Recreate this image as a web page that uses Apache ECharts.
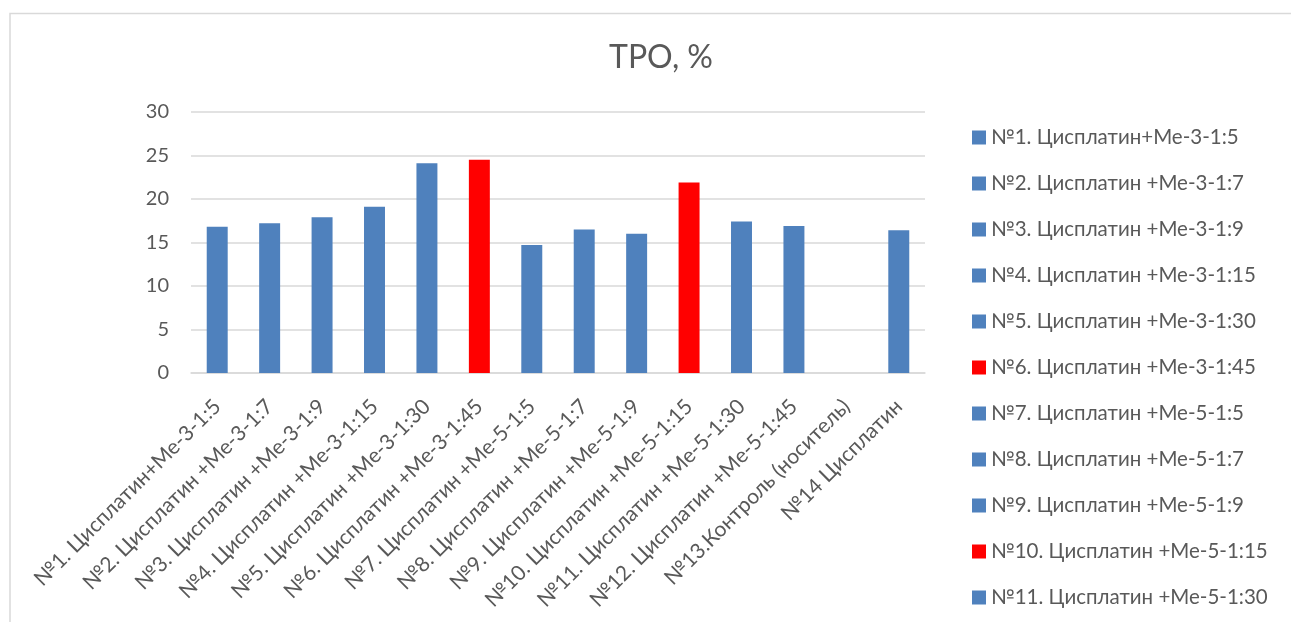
<!DOCTYPE html>
<html>
<head>
<meta charset="utf-8">
<script src="https://cdn.jsdelivr.net/npm/echarts@6/dist/echarts.min.js"></script>
<style>
  html, body { margin: 0; padding: 0; background: #fff; }
  #chart { width: 1291px; height: 622px; }
</style>
</head>
<body>
<div id="chart"></div>
<script>
const categories = [
  "№1. Цисплатин+Ме-3-1:5",
  "№2. Цисплатин +Ме-3-1:7",
  "№3. Цисплатин +Ме-3-1:9",
  "№4. Цисплатин +Ме-3-1:15",
  "№5. Цисплатин +Ме-3-1:30",
  "№6. Цисплатин +Ме-3-1:45",
  "№7. Цисплатин +Ме-5-1:5",
  "№8. Цисплатин +Ме-5-1:7",
  "№9. Цисплатин +Ме-5-1:9",
  "№10. Цисплатин +Ме-5-1:15",
  "№11. Цисплатин +Ме-5-1:30",
  "№12. Цисплатин +Ме-5-1:45",
  "№13.Контроль (носитель)",
  "№14 Цисплатин",
];
const tro = [16.8, 17.2, 17.9, 19.1, 24.1, 24.5, 14.7, 16.5, 16.0, 21.9, 17.4, 16.9, null, 16.4];
const highlighted = [false, false, false, false, false, true, false, false, false, true, false, false, false, false];
const yTicks = { min: 0, max: 30, interval: 5 };

const blue = "#4f81bd";
const red = "#ff0000";
const textColor = "#595959";
const font = "Lato, 'Open Sans', sans-serif";

const chart = echarts.init(document.getElementById("chart"));

// one series per category so the legend lists each one, like Excel's "vary colors by point"
const series = categories.map((name, i) => ({
  name: name,
  type: "bar",
  stack: "all",
  barCategoryGap: "60%",
  itemStyle: { color: highlighted[i] ? red : blue },
  data: tro.map((v, j) => (j === i ? v : null)),
}));

chart.setOption({
  animation: false,
  textStyle: { fontFamily: font },
  title: {
    text: "ТРО, %",
    left: 656,
    textAlign: "center",
    top: 37,
    textStyle: { fontFamily: font, fontSize: 32, fontWeight: "normal", color: textColor },
  },
  graphic: [
    {
      type: "rect",
      shape: { x: 10, y: 13.5, width: 1400, height: 800 },
      style: { fill: null, stroke: "#d9d9d9", lineWidth: 1.5 },
      silent: true,
    },
  ],
  legend: {
    orient: "vertical",
    left: 967,
    top: 122,
    height: 900,
    itemWidth: 14,
    itemHeight: 14,
    itemGap: 25,
    icon: "rect",
    textStyle: { fontFamily: font, fontSize: 20.5, color: textColor, lineHeight: 20 },
    data: categories,
  },
  grid: { left: 191, right: 366, top: 112, bottom: 249 },
  xAxis: {
    type: "category",
    data: categories,
    axisLine: { lineStyle: { color: "#d9d9d9", width: 1.5 } },
    axisTick: { show: false },
    axisLabel: {
      interval: 0,
      rotate: 45,
      margin: 30,
      fontFamily: font,
      fontSize: 21,
      color: textColor,
    },
  },
  yAxis: {
    type: "value",
    min: yTicks.min,
    max: yTicks.max,
    interval: yTicks.interval,
    axisLine: { show: false },
    axisTick: { show: false },
    axisLabel: { fontFamily: font, fontSize: 20, color: textColor, margin: 22 },
    splitLine: { lineStyle: { color: "#d9d9d9", width: 1.5 } },
  },
  series: series,
});
</script>
</body>
</html>
